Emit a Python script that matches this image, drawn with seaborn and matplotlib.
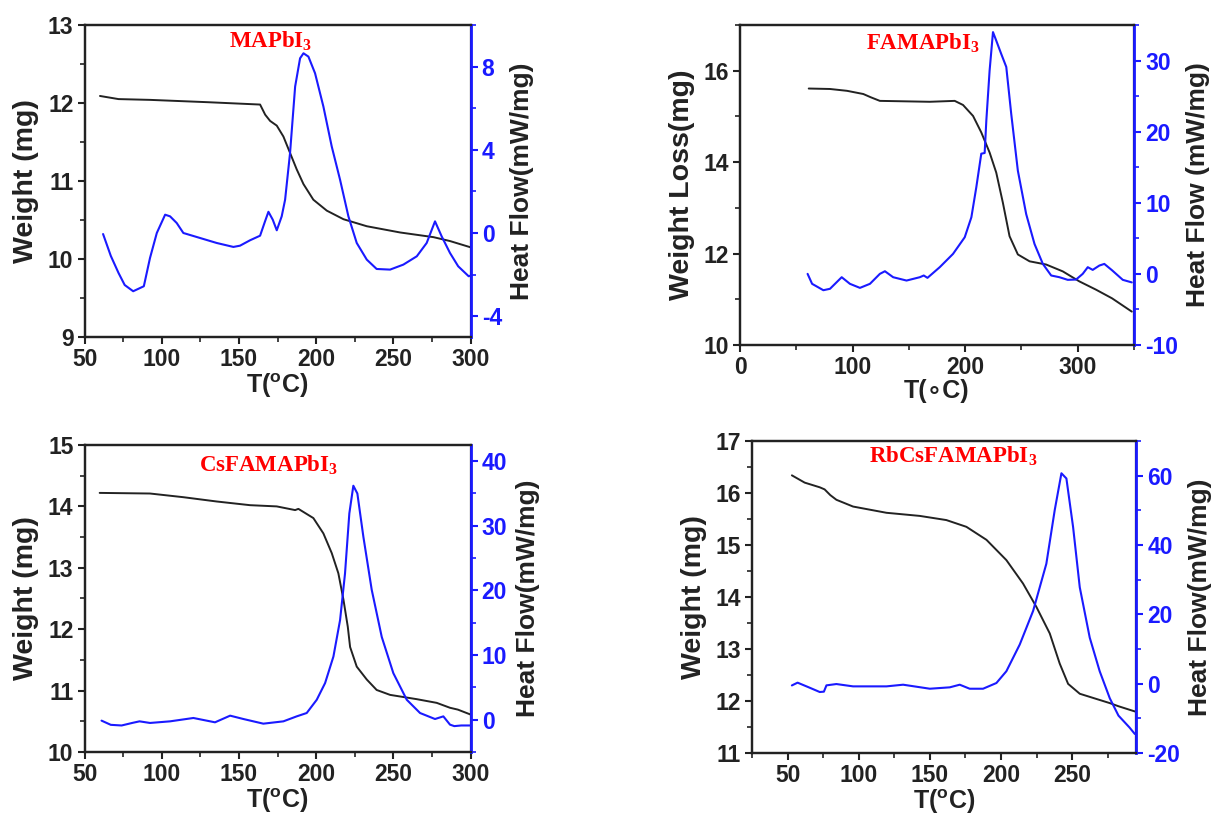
import numpy as np
import seaborn as sns
import matplotlib.pyplot as plt
from matplotlib.ticker import MultipleLocator

# ---- MAPbI3 ----
ma_t_w = [60, 72, 92.4, 130, 163.7, 167, 170.2, 174.5, 178.8, 183.1, 187.4, 191.8, 198.2, 206.9, 217.7, 232.8,
          254.4, 276, 286.7, 300]
ma_w = [12.09, 12.05, 12.04, 12.01, 11.98, 11.85, 11.77, 11.71, 11.57, 11.36, 11.15, 10.96, 10.76, 10.62, 10.51,
        10.42, 10.34, 10.28, 10.23, 10.15]
ma_t_h = [62, 67, 72, 76, 81.5, 88.4, 92.4, 96.8, 102.2, 105.4, 109.7, 114, 124.8, 135.6, 146.4, 150.7, 157.2,
          163.7, 166.9, 169.1, 171.9, 174.5, 177.7, 179.9, 183.1, 186.4, 189.6, 191.8, 195, 199.3, 204.7, 210.1,
          215.5, 220.9, 226.3, 232.8, 239.2, 247.9, 256.5, 265.2, 271.6, 277, 281.3, 286.7, 292, 298.8, 300]
ma_h = [-0.05, -1.1, -1.92, -2.5, -2.8, -2.56, -1.2, 0.0, 0.88, 0.8, 0.48, 0.0, -0.24, -0.48, -0.67, -0.61, -0.35,
        -0.13, 0.56, 1.02, 0.64, 0.13, 0.8, 1.6, 3.84, 7.04, 8.4, 8.64, 8.48, 7.68, 6.08, 4.16, 2.56, 0.8, -0.48,
        -1.28, -1.73, -1.76, -1.52, -1.12, -0.48, 0.56, -0.16, -0.96, -1.6, -2.08, -2.05]

# ---- FAMAPbI3 ----
fa_t_w = [61, 79.9, 95, 109.5, 116, 124.2, 168.5, 190.7, 198.1, 207, 214.3, 221.7, 227.6, 233.5, 239.4, 246.8,
          257.2, 271.9, 286.7, 301.5, 316.2, 330.5, 348]
fa_w = [15.61, 15.6, 15.56, 15.49, 15.42, 15.34, 15.32, 15.34, 15.25, 15.01, 14.65, 14.21, 13.77, 13.11, 12.38,
        11.98, 11.83, 11.76, 11.61, 11.39, 11.21, 11.02, 10.73]
fa_t_h = [60, 64, 74, 79.9, 90.3, 97.6, 106.5, 115.4, 124.2, 128.7, 136, 147.9, 159.7, 163.2, 166.5, 177.4, 189.2,
          199.6, 205.5, 209.9, 214.3, 217.3, 218.8, 221.7, 224.7, 227.6, 232.1, 236.5, 240.9, 246.8, 254.2, 261.6,
          269, 276.4, 283.7, 291.1, 298.5, 304.4, 308.9, 313.3, 319.2, 323.6, 330.5, 340, 348]
fa_h = [0.0, -1.4, -2.3, -2.1, -0.47, -1.4, -1.97, -1.4, 0.0, 0.37, -0.47, -0.94, -0.47, -0.23, -0.56, 0.94, 2.81,
        5.15, 7.96, 12.2, 16.9, 17.0, 21.6, 28.6, 34.0, 32.8, 30.9, 29.1, 22.5, 14.5, 8.4, 4.2, 1.4, -0.23, -0.47,
        -0.84, -0.8, 0.0, 0.94, 0.56, 1.17, 1.4, 0.5, -0.84, -1.2]

# ---- CsFAMAPbI3 ----
cs_t_w = [59.8, 92.4, 114, 135.6, 157.2, 174.5, 186.4, 188.5, 198.2, 204.7, 210.1, 214.4, 217.7, 220.5, 222,
          226.3, 232.8, 239.2, 247.9, 265.2, 278.1, 286.7, 291.8, 300]
cs_w = [14.22, 14.21, 14.15, 14.08, 14.02, 14.0, 13.94, 13.96, 13.81, 13.56, 13.24, 12.91, 12.48, 12.04, 11.71,
        11.39, 11.18, 11.01, 10.93, 10.86, 10.80, 10.72, 10.69, 10.61]
cs_t_h = [61, 67, 74, 81, 85.6, 92.4, 105.4, 120.5, 134.5, 144.3, 152.9, 165.8, 178.8, 187.4, 193.9, 200.4, 205.8,
          211.2, 215.5, 218.7, 221.5, 224.1, 226.7, 230.6, 236, 242.5, 250, 258.7, 267.3, 277, 282.4, 286.7, 289.5,
          294, 300]
cs_h = [-0.15, -0.8, -0.9, -0.5, -0.26, -0.51, -0.26, 0.26, -0.41, 0.62, 0.1, -0.62, -0.26, 0.51, 1.03, 3.08,
        5.66, 9.77, 15.4, 22.6, 31.9, 36.2, 35.0, 28.3, 20.1, 12.8, 7.2, 3.08, 1.03, 0.1, 0.51, -0.77, -1.0, -0.9,
        -0.9]

# ---- RbCsFAMAPbI3 ----
rb_t_w = [53, 62, 72.6, 76, 80, 84.3, 96, 119.5, 142.9, 161.6, 175.7, 189.8, 203.8, 215.5, 224.9, 234.3, 241.3,
          247.2, 255.4, 267.1, 276.5, 282.6, 294.1]
rb_w = [16.34, 16.2, 16.11, 16.07, 15.96, 15.87, 15.74, 15.62, 15.56, 15.48, 15.35, 15.10, 14.71, 14.26, 13.81,
        13.30, 12.72, 12.33, 12.14, 12.04, 11.96, 11.90, 11.80]
rb_t_h = [53, 57, 64.6, 72.6, 75.5, 77.3, 84.3, 96, 119.5, 131.2, 150, 164, 171, 178, 187.4, 196.8, 203.8, 213.2,
          222.6, 231.9, 237.8, 242.5, 246, 250.7, 255.4, 262.4, 269.4, 276.5, 282.6, 290.3, 294.1]
rb_h = [-0.5, 0.3, -1.0, -2.4, -2.3, -0.48, -0.1, -0.77, -0.77, -0.29, -1.45, -1.05, -0.29, -1.45, -1.45, 0.2,
        3.6, 11.3, 21.0, 34.6, 50.1, 60.7, 59.2, 45.2, 27.8, 13.3, 3.6, -4.2, -9.2, -12.6, -14.5]

sns.set_theme(style="ticks")
plt.rcParams['font.family'] = ['Liberation Sans', 'DejaVu Sans']
plt.rcParams['mathtext.fontset'] = 'custom'
plt.rcParams['mathtext.rm'] = 'Liberation Serif:bold'
plt.rcParams['mathtext.bf'] = 'Liberation Sans:bold'
plt.rcParams['axes.unicode_minus'] = False

fig = plt.figure(figsize=(12.13, 8.14), dpi=100)

panels = [
    dict(rect=[0.0697, 0.586, 0.3182, 0.3833], tw=ma_t_w, w=ma_w, th=ma_t_h, h=ma_h,
         xlim=(50, 300), xmaj=50, xmin=25, ylim=(9, 13), ymaj=1, ymin=0.5,
         hlim=(-5, 10), hmin=2, hticks=[-4, 0, 4, 8],
         xlabel='T($^{\\mathbf{o}}$C)', ylabel='Weight (mg)', hlabel='Heat Flow(mW/mg)',
         title='MAPbI$\\mathrm{_3}$', tx=0.482, ty=0.946),
    dict(rect=[0.6101, 0.5762, 0.3248, 0.3931], tw=fa_t_w, w=fa_w, th=fa_t_h, h=fa_h,
         xlim=(0, 350), xmaj=100, xmin=50, ylim=(10, 17), ymaj=2, ymin=1,
         hlim=(-10, 35), hmin=5, hticks=[-10, 0, 10, 20, 30],
         xlabel='T(\u2218C)', ylabel='Weight Loss(mg)', hlabel='Heat Flow (mW/mg)',
         title='FAMAPbI$\\mathrm{_3}$', tx=0.465, ty=0.943),
    dict(rect=[0.0697, 0.0762, 0.3182, 0.3771], tw=cs_t_w, w=cs_w, th=cs_t_h, h=cs_h,
         xlim=(50, 300), xmaj=50, xmin=25, ylim=(10, 15), ymaj=1, ymin=0.5,
         hlim=(-5, 42.5), hmin=5, hticks=[0, 10, 20, 30, 40],
         xlabel='T($^{\\mathbf{o}}$C)', ylabel='Weight (mg)', hlabel='Heat Flow(mW/mg)',
         title='CsFAMAPbI$\\mathrm{_3}$', tx=0.476, ty=0.935),
    dict(rect=[0.620, 0.0749, 0.3166, 0.3833], tw=rb_t_w, w=rb_w, th=rb_t_h, h=rb_h,
         xlim=(25, 295), xmaj=50, xmin=25, ylim=(11, 17), ymaj=1, ymin=0.5,
         hlim=(-20, 70), hmin=10, hticks=[-20, 0, 20, 40, 60],
         xlabel='T($^{\\mathbf{o}}$C)', ylabel='Weight (mg)', hlabel='Heat Flow(mW/mg)',
         title='RbCsFAMAPbI$\\mathrm{_3}$', tx=0.524, ty=0.952),
]

blue = '#1a1aff'
dark = '#222222'
for p in panels:
    ax = fig.add_axes(p['rect'])
    ax2 = ax.twinx()
    sns.lineplot(x=p['tw'], y=p['w'], ax=ax, color=dark, lw=1.4, sort=False)
    sns.lineplot(x=p['th'], y=p['h'], ax=ax2, color=blue, lw=1.5, sort=False)

    ax.set_xlim(*p['xlim'])
    ax.set_ylim(*p['ylim'])
    ax2.set_ylim(*p['hlim'])
    ax.xaxis.set_major_locator(MultipleLocator(p['xmaj']))
    ax.xaxis.set_minor_locator(MultipleLocator(p['xmin']))
    ax.yaxis.set_major_locator(MultipleLocator(p['ymaj']))
    ax.yaxis.set_minor_locator(MultipleLocator(p['ymin']))
    ax2.set_yticks(p['hticks'])
    ax2.yaxis.set_minor_locator(MultipleLocator(p['hmin']))

    for a in (ax, ax2):
        for s in a.spines.values():
            s.set_linewidth(1.6)
            s.set_color(dark)
    ax2.spines['right'].set_color(blue)
    ax2.spines['right'].set_linewidth(2)

    ax.tick_params(axis='both', which='major', direction='out', length=5, width=1.5,
                   labelsize=16.5, colors=dark, pad=3)
    ax.tick_params(axis='both', which='minor', direction='out', length=3.5, width=1.2, colors=dark)
    ax2.tick_params(axis='y', which='major', direction='out', length=5, width=1.5,
                    labelsize=16.5, colors=blue, pad=3)
    ax2.tick_params(axis='y', which='minor', direction='out', length=3.5, width=1.2, colors=blue)
    for lab in ax.get_xticklabels() + ax.get_yticklabels() + ax2.get_yticklabels():
        lab.set_fontweight('bold')

    ax.set_xlabel(p['xlabel'], fontsize=18, fontweight='bold', labelpad=0, color=dark)
    ax.set_ylabel(p['ylabel'], fontsize=20.5, fontweight='bold', color=dark, labelpad=6)
    ax2.set_ylabel(p['hlabel'], fontsize=19, fontweight='bold', color=dark, labelpad=6)

    ax.text(p['tx'], p['ty'], p['title'], transform=ax.transAxes, color='red',
            fontsize=16.5, fontweight='bold', family='Liberation Serif', ha='center', va='center')

fig.savefig('out.png', dpi=100, facecolor='white')
